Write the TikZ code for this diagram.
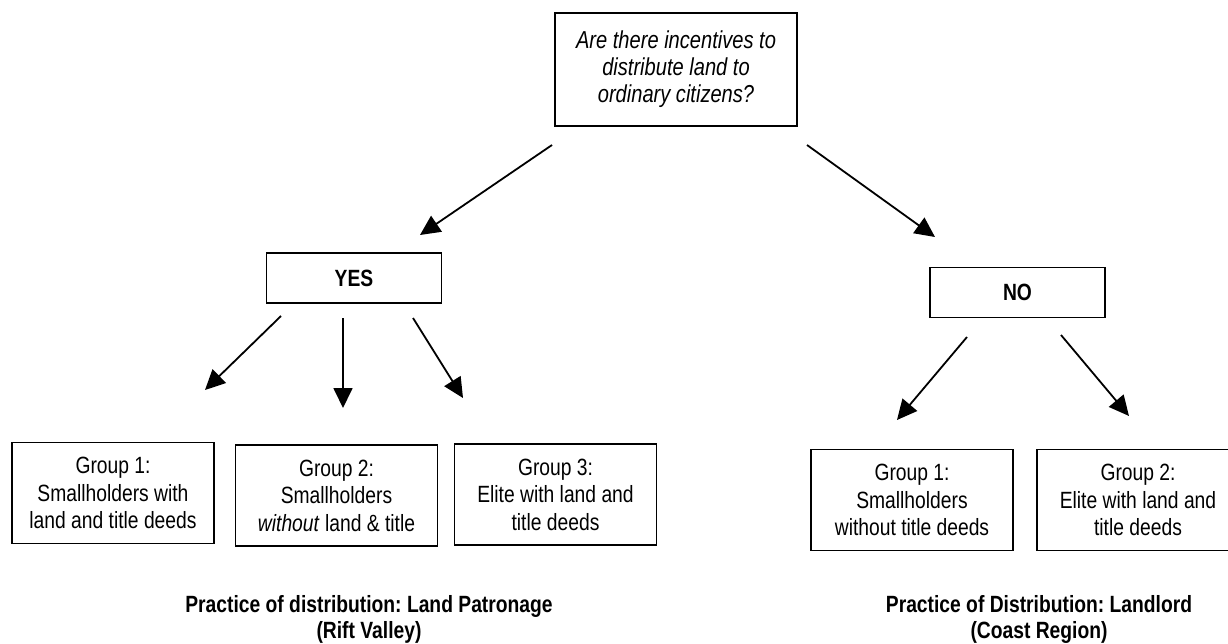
\documentclass[tikz,border=0pt]{standalone}
\usepackage{fontspec}
\setmainfont{Liberation Sans}[FakeStretch=0.82]
\usetikzlibrary{arrows.meta}
\frenchspacing

\begin{document}
\begin{tikzpicture}
    [
    x=1pt, y=-1pt,
    every node/.style={font=\fontsize{23.5}{27.5}\selectfont},
    box/.style={rectangle, draw, line width=1.3pt, inner sep=0pt, align=center},
    group/.style={box, minimum width=202pt, minimum height=101pt},
    answer/.style={box, minimum width=175pt, minimum height=50pt, font=\fontsize{23.5}{27.5}\selectfont\bfseries},
    arrow/.style={-{Triangle[length=20pt, width=19pt]}, line width=1.8pt},
    practice/.style={align=center, font=\fontsize{23.5}{25.5}\selectfont\bfseries}
    ]
    \useasboundingbox (0,0) rectangle (1228,644);

% Question
    \node[box, minimum width=242pt, minimum height=113pt, font=\fontsize{24.5}{27}\selectfont\itshape] (question) at (676,69.5) {Are there incentives to\\distribute land to\\ordinary citizens?};

% Answers
    \node[answer] (yes) at (354,278) {YES};
    \node[answer] (no) at (1017.5,292.5) {NO};

% Groups under YES
    \node[group] (yes_g1) at (113,493) {Group 1:\\Smallholders with\\land and title deeds};
    \node[group] (yes_g2) at (336.5,495.5) {Group 2:\\Smallholders\\\textit{without} land \& title};
    \node[group] (yes_g3) at (555.5,494.5) {Group 3:\\Elite with land and\\title deeds};

% Groups under NO
    \node[group] (no_g1) at (912,500) {Group 1:\\Smallholders\\without title deeds};
    \node[group] (no_g2) at (1138,500) {Group 2:\\Elite with land and\\title deeds};

% Practice labels
    \node[practice] (patronage) at (369,619.5) {Practice of distribution: Land Patronage\\(Rift Valley)};
    \node[practice] (landlord) at (1039,619.5) {Practice of Distribution: Landlord\\(Coast Region)};

% Arrow ends
    \coordinate (q_yes_a) at (552,145);
    \coordinate (q_yes_b) at (420,235);
    \coordinate (q_no_a) at (807,145);
    \coordinate (q_no_b) at (935,237);
    \coordinate (yes_g1_a) at (281,316);
    \coordinate (yes_g1_b) at (205,390);
    \coordinate (yes_g2_a) at (343,318);
    \coordinate (yes_g2_b) at (343,408);
    \coordinate (yes_g3_a) at (413,318);
    \coordinate (yes_g3_b) at (463,398);
    \coordinate (no_g1_a) at (967,337);
    \coordinate (no_g1_b) at (897,420);
    \coordinate (no_g2_a) at (1061,335);
    \coordinate (no_g2_b) at (1129,416);

% Arrows
    \draw[arrow] (q_yes_a) -- (q_yes_b);
    \draw[arrow] (q_no_a) -- (q_no_b);
    \draw[arrow] (yes_g1_a) -- (yes_g1_b);
    \draw[arrow] (yes_g2_a) -- (yes_g2_b);
    \draw[arrow] (yes_g3_a) -- (yes_g3_b);
    \draw[arrow] (no_g1_a) -- (no_g1_b);
    \draw[arrow] (no_g2_a) -- (no_g2_b);

\end{tikzpicture}
\end{document}
